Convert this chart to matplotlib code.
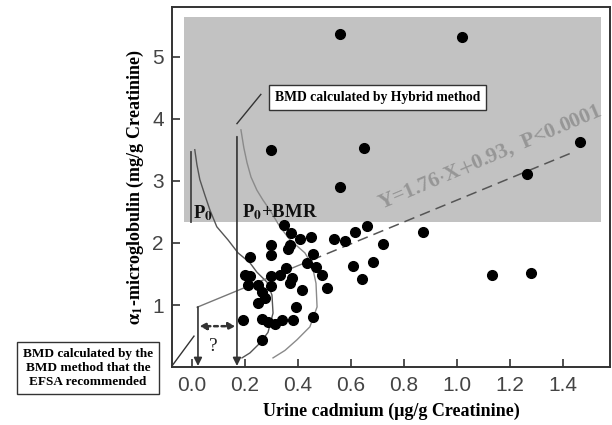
import numpy as np
import matplotlib
matplotlib.use("Agg")
import matplotlib.pyplot as plt
from matplotlib.patches import Rectangle

plt.rcParams['mathtext.fontset'] = 'stix'

# measured points (urine cadmium, alpha1-microglobulin)
cd = [0.558, 1.02, 0.30, 0.65, 0.56, 1.465, 1.264,
      0.87, 1.13, 1.28,
      0.659, 0.615, 0.536, 0.577, 0.72, 0.609, 0.681, 0.640, 0.489, 0.511,
      0.348, 0.374, 0.408, 0.37, 0.449, 0.30, 0.297, 0.219, 0.364, 0.458,
      0.433, 0.468, 0.355, 0.20, 0.219, 0.30, 0.332, 0.376,
      0.213, 0.25, 0.30, 0.263, 0.275, 0.25, 0.37, 0.414, 0.392, 0.194,
      0.263, 0.288, 0.313, 0.338, 0.383, 0.455, 0.263]
a1m = [5.37, 5.31, 3.50, 3.53, 2.90, 3.63, 3.11,
       2.18, 1.48, 1.52,
       2.28, 2.18, 2.06, 2.03, 1.99, 1.63, 1.70, 1.42, 1.48, 1.27,
       2.29, 2.16, 2.06, 1.97, 2.10, 1.96, 1.81, 1.78, 1.91, 1.82,
       1.67, 1.62, 1.60, 1.48, 1.47, 1.46, 1.48, 1.43,
       1.32, 1.32, 1.31, 1.21, 1.11, 1.03, 1.35, 1.24, 0.97, 0.76,
       0.78, 0.73, 0.70, 0.76, 0.76, 0.81, 0.44]

slope, intercept = 1.76, 0.93
reg_x_solid = [0.02, 0.45]
reg_x_dash = [0.45, 1.44]

# distribution sketches
p0_curve_x = [0.011, 0.019, 0.030, 0.049, 0.068, 0.094, 0.136, 0.174, 0.219, 0.245,
              0.283, 0.302, 0.306, 0.287, 0.257, 0.219, 0.189]
p0_curve_y = [3.50, 3.26, 3.02, 2.77, 2.53, 2.26, 2.05, 1.84, 1.68, 1.53,
              1.37, 1.16, 0.87, 0.56, 0.39, 0.23, 0.15]
bmr_curve_x = [0.185, 0.196, 0.208, 0.223, 0.245, 0.268, 0.294, 0.332, 0.370, 0.426,
               0.453, 0.468, 0.472, 0.445, 0.396, 0.351, 0.306]
bmr_curve_y = [3.82, 3.53, 3.29, 3.06, 2.85, 2.69, 2.53, 2.26, 2.05, 1.84,
               1.65, 1.35, 0.97, 0.65, 0.44, 0.27, 0.15]

bmd_efsa = 0.023
bmd_hybrid = 0.17

fig = plt.figure(figsize=(6.12, 4.25), dpi=100)
ax = fig.add_axes([0.281, 0.136, 0.716, 0.848])
ax.set_xlim(-0.075, 1.577)
ax.set_ylim(0, 5.8)

# grey region (hybrid method range)
ax.add_patch(Rectangle((-0.03, 2.34), 1.573, 3.29, facecolor='#c2c2c2',
                       edgecolor='none', zorder=0))

ax.plot(p0_curve_x, p0_curve_y, color='#555555', lw=1.0, zorder=2)
ax.plot(bmr_curve_x, bmr_curve_y, color='#8a8a8a', lw=1.0, zorder=2)

# regression line
ax.plot(reg_x_solid, [slope * v + intercept for v in reg_x_solid],
        color='#777777', lw=1.0, zorder=2)
ax.plot(reg_x_dash, [slope * v + intercept for v in reg_x_dash],
        color='#555555', lw=1.1, ls=(0, (7, 4)), zorder=2)

ax.plot(cd, a1m, 'o', color='black', ms=7, zorder=3)

# P0 bar
ax.plot([-0.005, -0.005], [2.33, 3.47], color='#444444', lw=1.3, zorder=2)
ax.text(0.003, 2.32, r'P$_\mathbf{0}$', fontsize=13.5, fontweight='bold',
        family='Liberation Serif', va='bottom', ha='left', color='#111111')
ax.text(0.19, 2.33, r'P$_\mathbf{0}$+BMR', fontsize=13.5, fontweight='bold',
        family='Liberation Serif', va='bottom', ha='left', color='#111111')

# vertical arrows at the BMDs
ax.annotate('', xy=(bmd_efsa, 0.02), xytext=(bmd_efsa, slope * bmd_efsa + intercept),
            arrowprops=dict(arrowstyle='-|>', color='#333333', lw=1.2,
                            mutation_scale=12, shrinkA=0, shrinkB=0))
ax.annotate('', xy=(bmd_hybrid, 0.02), xytext=(bmd_hybrid, 3.71),
            arrowprops=dict(arrowstyle='-|>', color='#333333', lw=1.2,
                            mutation_scale=12, shrinkA=0, shrinkB=0))
ax.annotate('', xy=(bmd_efsa + 0.005, 0.66), xytext=(bmd_hybrid - 0.005, 0.66),
            arrowprops=dict(arrowstyle='<|-|>', color='#333333', lw=1.8,
                            linestyle=(0, (1.5, 1.5)), mutation_scale=10,
                            shrinkA=0, shrinkB=0))
ax.text(0.08, 0.33, '?', fontsize=14, family='Liberation Serif',
        ha='center', va='center', color='#222222')

# leader lines to the boxes
ax.plot([0.17, 0.26], [3.92, 4.39], color='#333333', lw=1.0)
ax.plot([-0.075, 0.008], [0.02, 0.5], color='#333333', lw=1.0, clip_on=False)

ax.text(0.70, 4.34, 'BMD calculated by Hybrid method', fontsize=9.8,
        fontweight='bold', family='Liberation Serif', ha='center', va='center',
        bbox=dict(boxstyle='square,pad=0.45', facecolor='white',
                  edgecolor='#333333', lw=1.0), zorder=4)

fig.text(0.144, 0.134, 'BMD calculated by the\nBMD method that the\nEFSA recommended',
         fontsize=9.5, fontweight='bold', family='Liberation Serif', ha='center',
         va='center', linespacing=1.25,
         bbox=dict(boxstyle='square,pad=0.45', facecolor='white',
                   edgecolor='#333333', lw=1.0))

ax.text(1.125, 3.38, 'Y=1.76$\\cdot$X$+$0.93,  P<0.0001', fontsize=15.5,
        family='Liberation Serif', fontweight='bold', color='#969696', rotation=23,
        ha='center', va='center', zorder=2)

ax.set_xticks([0.0, 0.2, 0.4, 0.6, 0.8, 1.0, 1.2, 1.4])
ax.set_xticklabels(['0.0', '0.2', '0.4', '0.6', '0.8', '1.0', '1.2', '1.4'])
ax.set_yticks([1, 2, 3, 4, 5])
ax.tick_params(direction='in', length=6, width=1.2, color='#333333',
               labelsize=15, labelcolor='#444444', pad=6)
for lab in ax.get_xticklabels() + ax.get_yticklabels():
    lab.set_family('Liberation Sans')
for s in ax.spines.values():
    s.set_linewidth(1.4)
    s.set_color('#333333')

ax.set_xlabel('Urine cadmium (μg/g Creatinine)', fontsize=13, fontweight='bold',
              family='Liberation Serif', labelpad=6)
ax.set_ylabel(r'$\mathbf{\alpha_1}$-microglobulin (mg/g Creatinine)', fontsize=13,
              fontweight='bold', family='Liberation Serif', labelpad=4)

fig.savefig('out.png', dpi=100)
